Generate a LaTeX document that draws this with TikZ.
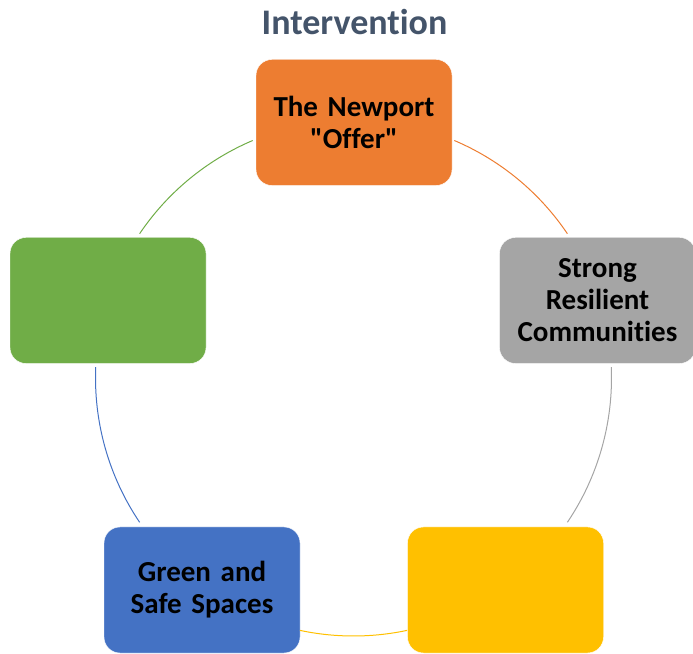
\documentclass[tikz,border=0pt]{standalone}
\usepackage{fontspec}
\setmainfont{Carlito}[Ligatures={TeX,NoCommon}]
\usetikzlibrary{shapes,arrows}
\definecolor{titleblue}{HTML}{44546A}
\definecolor{offorange}{HTML}{ED7D31}
\definecolor{offgray}{HTML}{A5A5A5}
\definecolor{offyellow}{HTML}{FFC000}
\definecolor{offblue}{HTML}{4472C4}
\definecolor{offgreen}{HTML}{70AD47}

\begin{document}
\begin{tikzpicture}
[x=1pt, y=1pt,
block/.style ={rectangle, draw=white, thin, text width=184pt, align=center,
rounded corners=16pt, minimum width=196pt, minimum height=126pt, inner sep=0pt,
font=\fontsize{29}{32}\selectfont\bfseries},
link/.style ={line width=1pt}]

\useasboundingbox (0,0) rectangle (693,653);
\coordinate (hub) at (353.5,275);

\node (title) [anchor=base, text=titleblue, font=\fontsize{36}{40}\selectfont\bfseries]
  at (354.5,618) {Intervention};

% ring of boxes
\node (offer) [block, fill=offorange] at (354,530.5) {The Newport\\\textquotedbl Offer\textquotedbl};
\node (strong) [block, fill=offgray] at (597.5,352.5) {Strong\\Resilient\\Communities};
\node (yellow) [block, fill=offyellow] at (505.5,63) {};
\node (spaces) [block, fill=offblue] at (202,63) {Green and\\Safe Spaces};
\node (green) [block, fill=offgreen] at (108,352.5) {};

% arcs between boxes
\draw[link, offorange] ([shift={(67:258)}]hub) arc[start angle=67, end angle=34, radius=258];
\draw[link, offgray] ([shift={(2.4:258)}]hub) arc[start angle=2.4, end angle=-34, radius=258];
\draw[link, offyellow] ([shift={(-78:258)}]hub) arc[start angle=-78, end angle=-102, radius=258];
\draw[link, offblue] ([shift={(-146:258)}]hub) arc[start angle=-146, end angle=-182.4, radius=258];
\draw[link, offgreen] ([shift={(146:258)}]hub) arc[start angle=146, end angle=113, radius=258];
\end{tikzpicture}
\end{document}
